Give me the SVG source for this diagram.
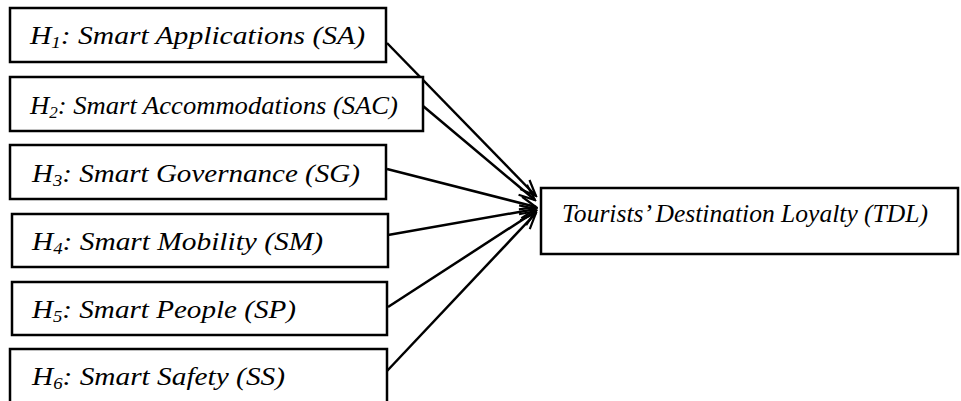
<svg xmlns="http://www.w3.org/2000/svg" width="961" height="401" viewBox="0 0 961 401">
<defs>
<style>
.box{fill:#fff;stroke:#000;stroke-width:2.5}
.t{font-family:"Liberation Serif","Times New Roman",serif;font-style:italic;font-size:25px;fill:#000}
.s{font-size:16px}
.c{stroke:#000;stroke-width:2.5;fill:none}
</style>
<marker id="ah" viewBox="0 0 20 20" refX="18" refY="10" markerWidth="20" markerHeight="20" markerUnits="userSpaceOnUse" orient="auto">
<path d="M2,3.5 L18,10 L2,16.5" fill="none" stroke="#000" stroke-width="2.2"/>
</marker>
</defs>
<rect width="961" height="401" fill="#fff"/>
<g id="connectors">
<line class="c" x1="387" y1="43" x2="536" y2="196" marker-end="url(#ah)"/>
<line class="c" x1="423" y1="106" x2="535" y2="200" marker-end="url(#ah)"/>
<line class="c" x1="387" y1="169" x2="536" y2="207" marker-end="url(#ah)"/>
<line class="c" x1="388" y1="235" x2="536" y2="209" marker-end="url(#ah)"/>
<line class="c" x1="388" y1="307" x2="536" y2="211" marker-end="url(#ah)"/>
<line class="c" x1="387" y1="371" x2="536" y2="213" marker-end="url(#ah)"/>
</g>
<g id="h1">
<rect class="box" x="10" y="8" width="376" height="54"/>
<text class="t" x="30" y="44" textLength="335" lengthAdjust="spacingAndGlyphs">H<tspan class="s" dy="4">1</tspan><tspan dy="-4">: Smart Applications (SA)</tspan></text>
</g>
<g id="h2">
<rect class="box" x="10" y="77" width="413" height="54"/>
<text class="t" x="30" y="114" textLength="368" lengthAdjust="spacingAndGlyphs">H<tspan class="s" dy="4">2</tspan><tspan dy="-4">: Smart Accommodations (SAC)</tspan></text>
</g>
<g id="h3">
<rect class="box" x="10" y="145" width="376" height="54"/>
<text class="t" x="32" y="182" textLength="328" lengthAdjust="spacingAndGlyphs">H<tspan class="s" dy="4">3</tspan><tspan dy="-4">: Smart Governance (SG)</tspan></text>
</g>
<g id="h4">
<rect class="box" x="12" y="214" width="376" height="53"/>
<text class="t" x="32" y="250" textLength="291" lengthAdjust="spacingAndGlyphs">H<tspan class="s" dy="4">4</tspan><tspan dy="-4">: Smart Mobility (SM)</tspan></text>
</g>
<g id="h5">
<rect class="box" x="12" y="282" width="375" height="53"/>
<text class="t" x="32" y="318" textLength="264" lengthAdjust="spacingAndGlyphs">H<tspan class="s" dy="4">5</tspan><tspan dy="-4">: Smart People (SP)</tspan></text>
</g>
<g id="h6">
<rect class="box" x="10" y="349" width="377" height="70"/>
<text class="t" x="32" y="385" textLength="253" lengthAdjust="spacingAndGlyphs">H<tspan class="s" dy="4">6</tspan><tspan dy="-4">: Smart Safety (SS)</tspan></text>
</g>
<g id="tdl">
<rect class="box" x="541" y="188" width="417" height="66"/>
<text class="t" x="562" y="222" textLength="366" lengthAdjust="spacingAndGlyphs" style="font-size:26px">Tourists’ Destination Loyalty (TDL)</text>
</g>
</svg>
